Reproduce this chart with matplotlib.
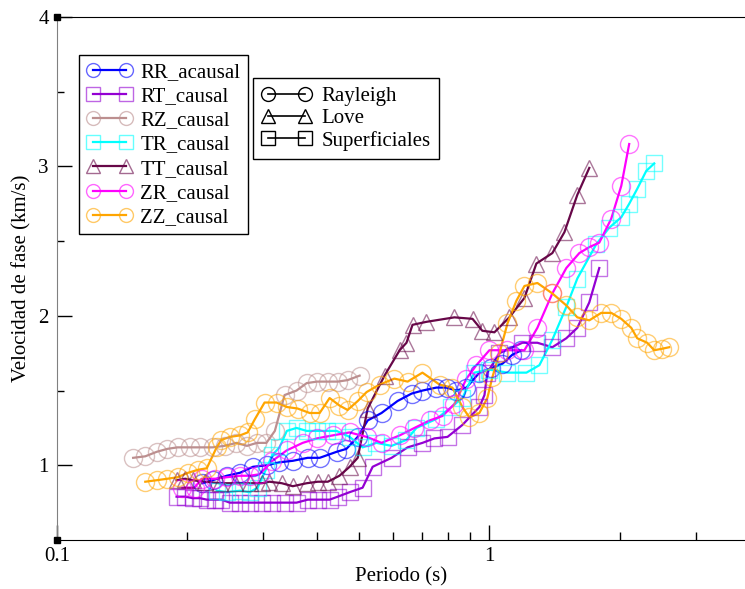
import matplotlib
matplotlib.use("Agg")
import matplotlib.pyplot as plt
from matplotlib.colors import to_rgba
from matplotlib.lines import Line2D
from matplotlib.ticker import FixedLocator, NullFormatter

plt.rcParams.update({
    "font.family": ["Liberation Serif", "DejaVu Serif"],
    "font.size": 13,
    "xtick.direction": "in",
    "ytick.direction": "in",
})

# ── Data (period in s, phase velocity in km/s) ────────────────────────────────
RR_T = [0.217, 0.229, 0.247, 0.265, 0.284, 0.306, 0.327, 0.351, 0.380, 0.405,
        0.443, 0.467, 0.496, 0.523, 0.563, 0.613, 0.661, 0.700, 0.754, 0.796,
        0.839, 0.885, 0.948, 1.011, 1.072, 1.130, 1.186]
RR_V = [0.88, 0.90, 0.93, 0.95, 0.99, 1.00, 1.02, 1.03, 1.05, 1.05,
        1.09, 1.11, 1.19, 1.30, 1.35, 1.43, 1.48, 1.50, 1.52, 1.52,
        1.50, 1.52, 1.62, 1.65, 1.68, 1.74, 1.77]

RT_T = [0.189, 0.198, 0.206, 0.214, 0.222, 0.232, 0.240, 0.251, 0.265, 0.279,
        0.298, 0.315, 0.336, 0.358, 0.380, 0.401, 0.427, 0.446, 0.475, 0.509,
        0.537, 0.594, 0.647, 0.700, 0.746, 0.800, 0.866, 0.948, 0.974, 0.989,
        1.055, 1.192, 1.291, 1.398, 1.506, 1.597, 1.702, 1.795]
RT_V = [0.79, 0.79, 0.78, 0.78, 0.77, 0.77, 0.77, 0.75, 0.75, 0.75,
        0.75, 0.75, 0.75, 0.75, 0.77, 0.77, 0.77, 0.79, 0.82, 0.85,
        0.99, 1.05, 1.12, 1.15, 1.18, 1.19, 1.27, 1.39, 1.47, 1.62,
        1.75, 1.82, 1.82, 1.79, 1.85, 1.92, 2.09, 2.32]

RZ_T = [0.150, 0.160, 0.170, 0.180, 0.190, 0.203, 0.214, 0.229, 0.244, 0.260,
        0.275, 0.290, 0.305, 0.319, 0.336, 0.358, 0.378, 0.399, 0.423, 0.446,
        0.470, 0.501]
RZ_V = [1.05, 1.06, 1.09, 1.11, 1.12, 1.12, 1.12, 1.12, 1.13, 1.15,
        1.13, 1.15, 1.15, 1.23, 1.47, 1.50, 1.55, 1.56, 1.56, 1.56,
        1.57, 1.60]

TR_T = [0.234, 0.247, 0.265, 0.279, 0.291, 0.304, 0.315, 0.327, 0.340, 0.358,
        0.378, 0.399, 0.420, 0.443, 0.475, 0.509, 0.548, 0.594, 0.643, 0.678,
        0.754, 0.817, 0.866, 0.923, 1.000, 1.101, 1.218, 1.305, 1.398, 1.506,
        1.597, 1.767, 1.893, 2.018, 2.105, 2.197, 2.305, 2.405]
TR_V = [0.83, 0.82, 0.83, 0.82, 0.85, 0.97, 1.07, 1.12, 1.23, 1.25,
        1.23, 1.23, 1.23, 1.23, 1.19, 1.12, 1.15, 1.13, 1.17, 1.25,
        1.31, 1.39, 1.45, 1.62, 1.64, 1.62, 1.62, 1.67, 1.84, 2.06,
        2.25, 2.48, 2.59, 2.66, 2.75, 2.85, 2.97, 3.02]

TT_T = [0.189, 0.198, 0.206, 0.220, 0.238, 0.258, 0.279, 0.298, 0.310, 0.331,
        0.351, 0.378, 0.401, 0.423, 0.450, 0.475, 0.496, 0.523, 0.572, 0.620,
        0.643, 0.664, 0.715, 0.830, 0.914, 0.963, 1.027, 1.112, 1.205, 1.284,
        1.398, 1.491, 1.597, 1.702]
TT_V = [0.90, 0.91, 0.90, 0.89, 0.88, 0.88, 0.88, 0.88, 0.89, 0.88,
        0.86, 0.88, 0.89, 0.89, 0.93, 0.99, 1.05, 1.38, 1.60, 1.77,
        1.82, 1.94, 1.96, 1.99, 1.98, 1.90, 1.89, 1.99, 2.12, 2.35,
        2.42, 2.56, 2.81, 2.99]

ZR_T = [0.195, 0.208, 0.216, 0.232, 0.247, 0.265, 0.279, 0.294, 0.315, 0.340,
        0.370, 0.399, 0.434, 0.475, 0.520, 0.563, 0.620, 0.671, 0.727, 0.779,
        0.830, 0.885, 0.933, 1.000, 1.101, 1.205, 1.291, 1.398, 1.506, 1.614,
        1.702, 1.795, 1.913, 2.018, 2.105]
ZR_V = [0.85, 0.85, 0.91, 0.91, 0.92, 0.93, 0.93, 0.94, 1.03, 1.10,
        1.15, 1.18, 1.20, 1.22, 1.19, 1.15, 1.20, 1.25, 1.30, 1.33,
        1.41, 1.58, 1.67, 1.77, 1.77, 1.77, 1.92, 2.15, 2.32, 2.42,
        2.46, 2.49, 2.65, 2.87, 3.15]

ZZ_T = [0.160, 0.170, 0.180, 0.190, 0.201, 0.212, 0.222, 0.234, 0.240, 0.251,
        0.265, 0.276, 0.287, 0.302, 0.322, 0.340, 0.360, 0.384, 0.405, 0.427,
        0.450, 0.470, 0.496, 0.520, 0.557, 0.603, 0.647, 0.700, 0.767, 0.821,
        0.866, 0.899, 0.948, 0.989, 1.016, 1.055, 1.101, 1.154, 1.205, 1.291,
        1.398, 1.506, 1.597, 1.702, 1.814, 1.913, 2.018, 2.128, 2.197, 2.317,
        2.405, 2.509, 2.604]
ZZ_V = [0.89, 0.90, 0.91, 0.92, 0.95, 0.97, 0.98, 1.12, 1.17, 1.19,
        1.20, 1.22, 1.31, 1.42, 1.42, 1.39, 1.38, 1.35, 1.35, 1.45,
        1.40, 1.37, 1.43, 1.49, 1.54, 1.58, 1.56, 1.62, 1.54, 1.52,
        1.39, 1.32, 1.35, 1.45, 1.59, 1.75, 1.95, 2.10, 2.20, 2.22,
        2.15, 2.07, 1.99, 1.97, 2.02, 2.02, 1.98, 1.92, 1.85, 1.82,
        1.77, 1.78, 1.79]

SERIES = [
    ("RR_acausal", RR_T, RR_V, "#0000ff", "o"),
    ("RT_causal",  RT_T, RT_V, "#9400d3", "s"),
    ("RZ_causal",  RZ_T, RZ_V, "#bc8f8f", "o"),
    ("TR_causal",  TR_T, TR_V, "#00ffff", "s"),
    ("TT_causal",  TT_T, TT_V, "#670748", "^"),
    ("ZR_causal",  ZR_T, ZR_V, "#ff00ff", "o"),
    ("ZZ_causal",  ZZ_T, ZZ_V, "#ffa500", "o"),
]

TYPES = [("Rayleigh", "o"), ("Love", "^"), ("Superficiales", "s")]

MARKER_SIZE = {"o": 13, "s": 12, "^": 12}

fig = plt.figure(figsize=(7.45, 5.89), dpi=100)
ax = fig.add_axes([57 / 745, 49 / 589, 688 / 745, 523 / 589])

for name, t, v, color, mk in SERIES:
    ax.plot(t, v, color=color, lw=1.6, zorder=3)
    ax.plot(t, v, ls="none", marker=mk, ms=MARKER_SIZE[mk],
            mfc="none", mec=to_rgba(color, 0.55), mew=1.0, zorder=4)

ax.set_xscale("log")
ax.set_xlim(0.1, 3.9)
ax.set_ylim(0.5, 4)

ax.xaxis.set_major_locator(FixedLocator([0.1, 1]))
ax.xaxis.set_minor_locator(FixedLocator([0.2, 0.3, 0.4, 0.5, 0.6, 0.7, 0.8, 0.9, 2, 3]))
ax.xaxis.set_minor_formatter(NullFormatter())
ax.set_xticklabels(["0.1", "1"])
ax.yaxis.set_major_locator(FixedLocator([1, 2, 3, 4]))
ax.yaxis.set_minor_locator(FixedLocator([1.5, 2.5, 3.5]))
ax.set_yticklabels(["1", "2", "3", "4"])

ax.tick_params(which="major", length=11, width=1, labelsize=15, pad=5)
ax.tick_params(which="minor", length=6, width=1)
ax.tick_params(axis="y", which="major", length=11, pad=6)
ax.tick_params(axis="y", which="minor", length=5)

ax.spines["right"].set_visible(False)
ax.spines["left"].set_color("#808080")
for s in ("top", "bottom"):
    ax.spines[s].set_color("black")

# Corner markers like Grace
ax.plot([0.1, 0.1], [4, 0.5], ls="none", marker="s", ms=5, color="black",
        clip_on=False, zorder=6)

ax.set_xlabel("Periodo (s)", fontsize=15, labelpad=1)
ax.set_ylabel("Velocidad de fase (km/s)", fontsize=15, labelpad=5)

handles1 = [Line2D([], [], color=c, lw=1.6, marker=mk, ms=10, mfc="none",
                   mec=to_rgba(c, 0.6), mew=1.0)
            for _, _, _, c, mk in SERIES]
leg1 = ax.legend(handles1, [s[0] for s in SERIES], loc="upper left",
                 bbox_to_anchor=(0.032, 0.927), borderaxespad=0,
                 numpoints=2, handlelength=2.2, fontsize=15,
                 labelspacing=0.22, frameon=True, fancybox=False,
                 edgecolor="black", framealpha=1, borderpad=0.35,
                 handletextpad=0.4)
leg1.get_frame().set_linewidth(1.0)
ax.add_artist(leg1)

handles2 = [Line2D([], [], color="black", lw=1.2, marker=mk, ms=10,
                   mfc="none", mec="black", mew=1.0) for _, mk in TYPES]
leg2 = ax.legend(handles2, [t[0] for t in TYPES], loc="upper left",
                 bbox_to_anchor=(0.285, 0.883), borderaxespad=0,
                 numpoints=2, handlelength=2.4, fontsize=15,
                 labelspacing=0.12, frameon=True, fancybox=False,
                 edgecolor="black", framealpha=1, borderpad=0.4,
                 handletextpad=0.5)
leg2.get_frame().set_linewidth(1.0)

fig.savefig("out.png", dpi=100)
